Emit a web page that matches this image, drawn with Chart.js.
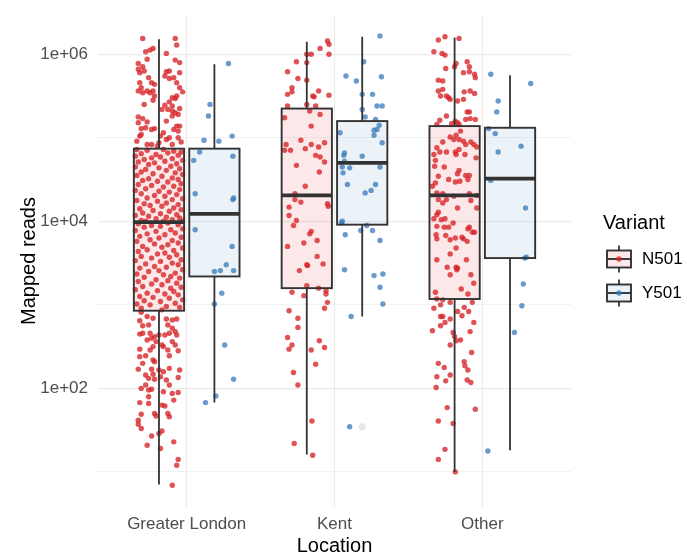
<!DOCTYPE html>
<html>
<head>
<meta charset="utf-8">
<script src="https://cdn.jsdelivr.net/npm/chart.js@4.4.1/dist/chart.umd.min.js"></script>
<style>
  html, body { margin: 0; padding: 0; background: #fff; }
  #wrap { width: 687px; height: 554px; position: relative; }
</style>
</head>
<body>
<div id="wrap"><canvas id="chart"></canvas></div>
<script>
// =======================
// Data (all read off the picture, values are log10(mapped reads))
// =======================

const locations = ["Greater London", "Kent", "Other"];
const variantNames = ["N501", "Y501"];
const yTickExponents = [1, 2, 3, 4, 5, 6];

// box stats per location: [lower whisker, Q1, median, Q3, upper whisker]
const n501Box = [
  [0.85, 2.93, 3.99, 4.87, 6.18],
  [1.21, 3.20, 4.31, 5.35, 6.15],
  [1.00, 3.07, 4.31, 5.14, 6.20]
];
const y501Box = [
  [1.83, 3.34, 4.09, 4.87, 5.88],
  [2.86, 3.96, 4.70, 5.20, 6.21],
  [1.26, 3.56, 4.51, 5.12, 5.75]
];

// outliers drawn by the boxplot: [location index, log10 value]
const y501Outliers = [[1, 1.54]];

// jittered points: [horizontal jitter, log10 value]
const glN501 = [
  [-0.11,6.19],[0.11,6.19],[0.12,6.11],[-0.09,6.03],[-0.06,6.05],[-0.04,6.07],[0.05,6.01],[-0.08,5.94],[0.11,5.93],[0.14,5.90],
  [-0.14,5.89],[-0.14,5.82],[-0.11,5.85],[-0.13,5.78],[-0.10,5.80],[0.05,5.79],[0.07,5.80],[0.04,5.74],[0.07,5.71],[0.10,5.72],
  [0.14,5.78],[-0.07,5.72],[-0.05,5.66],[-0.03,5.64],[-0.13,5.66],[-0.12,5.60],[-0.11,5.54],[-0.14,5.56],[-0.08,5.56],[-0.06,5.54],
  [-0.04,5.56],[-0.03,5.50],[-0.04,5.45],[0.12,5.66],[0.14,5.60],[0.12,5.50],[0.09,5.48],[0.07,5.43],[0.11,5.47],[0.14,5.35],
  [0.09,5.38],[0.11,5.30],[0.13,5.28],[0.09,5.26],[0.05,5.20],[0.04,5.39],[-0.14,5.25],[-0.11,5.23],[-0.14,5.18],[-0.08,5.19],
  [-0.12,5.11],[-0.09,5.12],[-0.05,5.10],[-0.03,5.11],[0.02,5.34],[0.06,5.34],[0.09,5.32],[0.12,5.14],[0.10,5.10],[0.14,5.14],
  [0.13,5.08],[-0.13,5.02],[-0.12,5.04],[0.01,5.02],[0.05,4.98],[0.07,5.00],[0.13,5.00],[-0.05,4.92],[-0.08,4.92],[0.00,4.94],
  [0.09,4.92],[-0.15,4.96],[0.15,4.95],[-0.01,4.90],[0.03,5.06],[-0.10,5.40],[0.16,5.55],
  // Q3 to median
  [-0.15,4.86],[-0.08,4.85],[0.03,4.86],[0.10,4.84],[0.15,4.83],[-0.12,4.81],[-0.02,4.80],[0.06,4.82],[0.13,4.79],[-0.16,4.78],
  [-0.05,4.76],[0.01,4.77],[0.09,4.75],[-0.10,4.74],[0.16,4.73],[-0.14,4.71],[-0.03,4.70],[0.04,4.72],[0.12,4.69],[-0.07,4.68],
  [0.08,4.66],[-0.16,4.65],[0.00,4.64],[0.14,4.63],[-0.09,4.62],[0.05,4.61],[-0.12,4.59],[0.11,4.58],[-0.04,4.57],[0.16,4.56],
  [-0.15,4.55],[0.02,4.54],[0.09,4.52],[-0.07,4.51],[0.13,4.50],[-0.11,4.49],[-0.01,4.48],[0.06,4.47],[0.15,4.45],[-0.14,4.44],
  [-0.05,4.43],[0.10,4.42],[0.03,4.41],[-0.09,4.39],[0.14,4.38],[-0.16,4.37],[0.00,4.36],[0.07,4.35],[-0.12,4.33],[0.12,4.32],
  [-0.03,4.31],[0.04,4.30],[-0.08,4.28],[0.16,4.27],[0.09,4.26],[-0.15,4.25],[-0.01,4.24],[0.05,4.22],[-0.10,4.21],[0.13,4.20],
  [-0.06,4.19],[0.02,4.18],[0.10,4.16],[-0.13,4.15],[0.15,4.14],[-0.04,4.13],[0.07,4.12],[-0.11,4.10],[0.01,4.09],[0.12,4.08],
  [-0.16,4.07],[-0.07,4.06],[0.05,4.05],[0.14,4.04],[-0.02,4.03],[0.09,4.02],[-0.12,4.01],[0.03,4.00],[-0.09,4.00],[0.16,4.00],
  // median to Q1
  [0.06,3.98],[-0.14,3.97],[0.13,3.96],[-0.05,3.95],[0.01,3.94],[-0.10,3.93],[0.16,3.91],[0.08,3.90],[-0.16,3.89],[-0.02,3.88],
  [0.11,3.86],[-0.08,3.85],[0.04,3.84],[-0.13,3.82],[0.15,3.81],[0.00,3.80],[-0.06,3.78],[0.09,3.77],[-0.15,3.76],[0.13,3.74],
  [-0.03,3.73],[0.06,3.72],[-0.11,3.70],[0.02,3.69],[0.16,3.68],[-0.08,3.66],[0.10,3.65],[-0.14,3.64],[0.04,3.62],[-0.01,3.61],
  [0.12,3.60],[-0.12,3.58],[0.07,3.57],[-0.05,3.56],[0.15,3.54],[-0.16,3.53],[0.01,3.52],[0.09,3.50],[-0.09,3.49],[0.13,3.48],
  [-0.03,3.46],[0.05,3.45],[-0.13,3.44],[0.16,3.42],[0.00,3.41],[-0.07,3.40],[0.11,3.38],[-0.15,3.37],[0.03,3.36],[0.08,3.34],
  [-0.10,3.33],[0.14,3.32],[-0.02,3.30],[0.06,3.29],[-0.14,3.28],[0.12,3.26],[-0.05,3.25],[0.02,3.24],[-0.11,3.22],[0.15,3.21],
  [0.08,3.20],[-0.16,3.18],[-0.01,3.17],[0.10,3.16],[-0.08,3.14],[0.04,3.13],[0.13,3.12],[-0.13,3.10],[-0.04,3.09],[0.07,3.08],
  [0.16,3.06],[-0.10,3.05],[0.01,3.04],[0.11,3.02],[-0.15,3.01],[-0.06,3.00],[0.05,2.98],[0.14,2.97],[-0.12,2.96],[0.02,2.94],
  // below Q1
  [-0.12,2.91],[-0.08,2.86],[-0.04,2.84],[0.05,2.83],[0.09,2.82],[0.12,2.83],[-0.13,2.81],[-0.11,2.75],[-0.07,2.76],[0.06,2.76],
  [0.09,2.72],[0.11,2.68],[0.07,2.66],[0.04,2.64],[0.12,2.64],[-0.13,2.65],[-0.11,2.66],[-0.06,2.66],[-0.03,2.62],[0.00,2.64],
  [-0.08,2.58],[-0.05,2.60],[-0.02,2.56],[0.02,2.52],[0.03,2.50],[0.09,2.56],[0.11,2.52],[-0.13,2.47],[-0.06,2.46],[-0.04,2.50],
  [0.06,2.46],[0.13,2.45],[-0.13,2.38],[-0.09,2.39],[-0.04,2.34],[0.07,2.39],[-0.11,2.30],[-0.03,2.32],[-0.14,2.23],[-0.05,2.23],
  [0.00,2.22],[0.07,2.24],[0.14,2.22],[-0.09,2.16],[-0.04,2.17],[0.03,2.20],[-0.07,2.12],[-0.03,2.11],[0.01,2.14],[0.05,2.10],
  [0.13,2.13],[-0.09,2.04],[-0.12,2.00],[-0.07,1.98],[-0.05,1.99],[0.03,1.96],[0.07,2.04],[0.09,1.94],[0.13,1.95],[0.10,1.86],
  [-0.07,1.90],[-0.13,1.83],[-0.07,1.82],[0.02,1.80],[0.04,1.79],[-0.12,1.69],[-0.03,1.70],[-0.02,1.67],[0.06,1.70],[0.07,1.66],
  [-0.14,1.62],[-0.14,1.57],[-0.12,1.52],[-0.05,1.43],[0.00,1.46],[0.02,1.49],[-0.08,1.32],[0.10,1.36],[0.01,1.28],[0.13,1.15],
  [0.12,1.08],[0.09,0.84]
];

const glY501 = [
  [0.095,5.89],[-0.03,5.40],[-0.04,5.26],[-0.07,4.97],[0.03,4.96],[0.12,5.02],[-0.10,4.83],[-0.14,4.73],[0.125,4.78],[-0.13,4.33],
  [0.13,4.28],[0.125,4.26],[-0.13,3.90],[0.12,3.70],[0.08,3.48],[0.00,3.40],[0.04,3.41],[0.13,3.41],[0.05,3.14],[0.00,3.01],
  [0.07,2.52],[0.13,2.11],[0.01,1.91],[-0.06,1.83]
];

const kentN501 = [
  [0.14,6.16],[0.15,6.12],[0.09,6.07],[0.00,6.00],[0.03,6.00],[0.15,6.00],[-0.07,5.91],[0.00,5.90],[-0.13,5.79],[-0.06,5.71],
  [0.00,5.69],[-0.10,5.60],[-0.10,5.55],[-0.13,5.52],[0.08,5.56],[0.04,5.50],[0.05,5.49],[0.15,5.51],[-0.13,5.38],[0.00,5.40],
  [0.06,5.38],[0.02,5.32],[0.09,5.28],[-0.15,5.24],[0.03,5.14],[-0.04,4.97],[0.12,4.94],[-0.14,4.92],[-0.15,4.85],[-0.11,4.85],
  [-0.01,4.87],[0.03,4.92],[0.08,4.89],[0.06,4.79],[0.09,4.77],[0.12,4.71],[-0.07,4.67],[0.085,4.59],[-0.01,4.42],[-0.08,4.33],
  [-0.08,4.26],[-0.04,4.23],[0.14,4.21],[0.145,4.18],[-0.12,4.17],[-0.12,4.07],[-0.07,4.01],[-0.09,3.95],[0.03,3.88],[0.02,3.85],
  [0.07,3.77],[-0.02,3.74],[-0.13,3.70],[0.07,3.58],[0.11,3.49],[0.00,3.48],[0.005,3.47],[-0.05,3.41],[0.00,3.23],[0.08,3.20],
  [0.13,3.17],[-0.10,3.15],[-0.02,3.11],[0.13,3.13],[0.14,3.03],[0.12,2.96],[-0.12,2.93],[-0.06,2.84],[-0.06,2.73],[-0.13,2.61],
  [-0.10,2.52],[-0.12,2.47],[0.085,2.57],[0.03,2.46],[0.12,2.49],[0.06,2.29],[-0.09,2.19],[-0.06,2.04],[0.035,1.61],[-0.085,1.34],
  [0.04,1.20]
];

const kentY501 = [
  [0.12,6.22],[0.01,5.91],[-0.11,5.74],[-0.04,5.68],[0.13,5.73],[0.00,5.52],[0.07,5.52],[0.10,5.38],[0.135,5.38],[0.00,5.34],
  [0.02,5.25],[0.09,5.22],[0.115,5.15],[0.10,5.10],[0.08,5.09],[0.08,5.03],[-0.15,5.06],[0.135,4.94],[0.00,4.78],[-0.12,4.82],
  [-0.125,4.79],[-0.12,4.72],[-0.135,4.65],[-0.13,4.58],[-0.085,4.64],[0.12,4.65],[-0.10,4.44],[0.09,4.44],[0.06,4.37],[0.02,4.34],
  [-0.135,4.00],[-0.14,3.98],[-0.01,3.89],[0.03,3.95],[0.07,3.89],[-0.115,3.84],[0.12,3.77],[-0.12,3.42],[0.08,3.35],[0.14,3.37],
  [0.12,3.21],[0.14,3.01],[-0.075,2.86],[-0.085,1.54]
];

const otherN501 = [
  [-0.11,6.17],[-0.065,6.21],[0.03,6.19],[-0.14,6.03],[-0.085,6.01],[-0.065,5.99],[0.01,5.89],[0.00,5.85],[0.085,5.91],[0.10,5.85],
  [0.10,5.79],[0.06,5.78],[-0.06,5.83],[0.135,5.76],[0.14,5.72],[-0.11,5.69],[-0.08,5.68],[-0.11,5.56],[-0.08,5.58],[-0.095,5.50],
  [-0.055,5.50],[-0.04,5.48],[-0.03,5.46],[0.065,5.55],[0.105,5.56],[0.135,5.53],[0.02,5.44],[0.06,5.46],[-0.055,5.26],[0.085,5.31],
  [0.10,5.31],[0.075,5.22],[0.105,5.23],[0.14,5.22],[-0.10,5.21],[-0.12,5.16],[0.005,5.20],[0.02,5.18],[0.03,5.16],[-0.02,5.17],
  [0.04,5.08],[-0.03,5.01],[0.01,5.03],[-0.005,4.98],[-0.08,4.95],[0.03,4.98],[0.06,4.96],[0.075,4.92],[0.11,4.95],[0.13,4.92],
  [0.15,4.89],[-0.12,4.88],[-0.10,4.83],[-0.14,4.80],[-0.055,4.83],[0.005,4.83],[0.03,4.86],[0.07,4.80],[0.01,4.80],[0.145,4.76],
  [-0.13,4.73],[-0.135,4.66],[-0.07,4.65],[0.03,4.61],[0.02,4.57],[0.075,4.55],[0.10,4.55],[-0.11,4.54],[-0.04,4.50],[0.005,4.47],
  [0.035,4.48],[0.09,4.50],[-0.13,4.46],[-0.15,4.42],[-0.12,4.34],[-0.08,4.33],[-0.005,4.30],[0.10,4.33],[0.15,4.31],[-0.055,4.26],
  [-0.11,4.26],[-0.08,4.22],[0.11,4.25],[0.15,4.16],[0.02,4.16],[-0.11,4.11],[-0.12,4.08],[-0.14,4.03],[-0.09,4.02],[-0.065,4.03],
  [-0.07,3.93],[-0.04,3.93],[-0.01,3.98],[-0.12,3.94],[0.09,3.91],[0.10,3.93],[0.12,3.87],[0.135,3.87],[-0.125,3.84],[-0.06,3.83],
  [-0.03,3.78],[0.005,3.80],[0.05,3.81],[0.06,3.79],[0.085,3.76],[-0.12,3.79],[0.01,3.68],[-0.12,3.54],[-0.03,3.61],[0.02,3.44],
  [0.08,3.54],[0.11,3.36],[-0.05,3.45],[0.01,3.45],[-0.03,3.36],[0.015,3.42],[0.13,3.26],[0.045,3.19],[0.09,3.13],[-0.13,3.15],
  [-0.12,3.07],[-0.08,3.06],[-0.095,3.00],[-0.03,3.03],[-0.14,2.96],[0.065,2.97],[0.12,3.03],[0.02,2.92],[0.095,2.92],[0.05,2.87],
  [-0.08,2.86],[-0.095,2.86],[-0.065,2.79],[-0.03,2.83],[0.13,2.79],[-0.095,2.75],[-0.15,2.69],[-0.01,2.67],[0.105,2.68],[0.00,2.62],
  [0.01,2.57],[0.04,2.58],[-0.03,2.52],[0.115,2.43],[-0.11,2.30],[-0.07,2.25],[0.065,2.32],[0.07,2.27],[0.09,2.22],[-0.12,2.14],
  [-0.03,2.16],[-0.06,2.09],[0.085,2.10],[0.11,2.07],[-0.125,2.01],[-0.05,1.77],[0.14,1.75],[-0.11,1.61],[-0.01,1.58],[-0.065,1.27],
  [-0.11,1.15],[0.005,1.00]
];

const otherY501 = [
  [-0.13,5.76],[0.14,5.65],[-0.08,5.44],[-0.09,5.31],[-0.145,5.11],[-0.10,5.05],[0.075,4.90],[-0.08,4.83],[-0.13,4.49],[0.105,4.16],
  [0.10,3.56],[0.11,3.57],[0.09,3.25],[0.08,2.99],[0.03,2.67],[-0.15,1.25]
];


// =======================
// Styling
// =======================

const FONT = "'Liberation Sans', Arial, Helvetica, sans-serif";
const DODGE = 0.1875;
const BOX_HALF = 0.17;

const variants = [
  { name: variantNames[0], dodge: -DODGE, box: n501Box, pts: [glN501, kentN501, otherN501],
    point: "rgba(214,35,40,0.78)", fill: "rgba(228,26,28,0.10)" },
  { name: variantNames[1], dodge: DODGE, box: y501Box, pts: [glY501, kentY501, otherY501],
    point: "rgba(55,120,185,0.75)", fill: "rgba(55,126,184,0.10)" }
];

function toPoints(v) {
  const out = [];
  v.pts.forEach((arr, li) => {
    arr.forEach(([j, e]) => out.push({ x: li + v.dodge + j, y: Math.pow(10, e) }));
  });
  return out;
}


// =======================
// Plugins: boxplots + legend
// =======================

const boxPlugin = {
  id: "boxes",
  afterDatasetsDraw(chart) {
    const { ctx, scales: { x, y } } = chart;
    ctx.save();
    variants.forEach(v => {
      v.box.forEach((s, li) => {
        const c = li + v.dodge;
        const xl = x.getPixelForValue(c - BOX_HALF);
        const xr = x.getPixelForValue(c + BOX_HALF);
        const xc = x.getPixelForValue(c);
        const [lo, q1, md, q3, hi] = s.map(e => y.getPixelForValue(Math.pow(10, e)));

        ctx.strokeStyle = "#333333";
        ctx.lineWidth = 1.8;
        ctx.beginPath();
        ctx.moveTo(xc, hi); ctx.lineTo(xc, q3);
        ctx.moveTo(xc, q1); ctx.lineTo(xc, lo);
        ctx.stroke();

        ctx.fillStyle = v.fill;
        ctx.fillRect(xl, q3, xr - xl, q1 - q3);
        ctx.lineWidth = 1.9;
        ctx.strokeRect(xl, q3, xr - xl, q1 - q3);

        ctx.lineWidth = 3.8;
        ctx.beginPath();
        ctx.moveTo(xl, md); ctx.lineTo(xr, md);
        ctx.stroke();
      });
    });
    ctx.restore();
  }
};

const legendPlugin = {
  id: "boxLegend",
  afterDraw(chart) {
    const ctx = chart.ctx;
    ctx.save();
    ctx.textBaseline = "middle";
    ctx.textAlign = "left";
    ctx.fillStyle = "#000";
    ctx.font = "20px " + FONT;
    ctx.fillText("Variant", 603, 223);

    const kx = 607, kw = 24, kh = 34;
    variants.forEach((v, i) => {
      const top = 242 + i * kh;
      const xc = kx + kw / 2;
      ctx.strokeStyle = "#333333";
      ctx.lineWidth = 1.8;
      ctx.beginPath();
      ctx.moveTo(xc, top + kh * 0.1); ctx.lineTo(xc, top + kh * 0.9);
      ctx.stroke();
      ctx.fillStyle = "#fff";
      ctx.fillRect(kx, top + kh * 0.25, kw, kh * 0.5);
      ctx.fillStyle = v.fill;
      ctx.fillRect(kx, top + kh * 0.25, kw, kh * 0.5);
      ctx.lineWidth = 1.9;
      ctx.strokeRect(kx, top + kh * 0.25, kw, kh * 0.5);
      ctx.beginPath();
      ctx.moveTo(kx, top + kh / 2); ctx.lineTo(kx + kw, top + kh / 2);
      ctx.stroke();
      ctx.fillStyle = v.point;
      ctx.beginPath();
      ctx.arc(xc, top + kh / 2, 2.7, 0, Math.PI * 2);
      ctx.fill();

      ctx.fillStyle = "#000";
      ctx.font = "17px " + FONT;
      ctx.fillText(v.name, 642, top + kh / 2);
    });
    ctx.restore();
  }
};


// =======================
// Chart
// =======================

document.addEventListener("DOMContentLoaded", () => {
  const datasets = variants.map(v => ({
    label: v.name,
    data: toPoints(v),
    backgroundColor: v.point,
    borderWidth: 0,
    pointRadius: 2.7,
    pointHoverRadius: 2.7
  }));
  datasets.push({
    label: "outliers",
    data: y501Outliers.map(([li, e]) => ({ x: li + DODGE, y: Math.pow(10, e) })),
    backgroundColor: "rgba(0,0,0,0.09)",
    borderWidth: 0,
    pointRadius: 3.6
  });

  new Chart(document.getElementById("chart").getContext("2d"), {
    type: "scatter",
    data: { datasets },
    plugins: [boxPlugin, legendPlugin],
    options: {
      responsive: true,
      maintainAspectRatio: false,
      animation: false,
      layout: { padding: { left: 0, top: 15, right: 116, bottom: 0 } },
      plugins: { legend: { display: false }, tooltip: { enabled: false } },
      scales: {
        x: {
          type: "linear",
          min: -0.6,
          max: 2.6,
          bounds: "data",
          afterBuildTicks: s => { s.ticks = locations.map((_, i) => ({ value: i })); },
          afterFit: s => { s.height = 47; s.paddingLeft = 0; s.paddingRight = 0; },
          ticks: {
            autoSkip: false,
            padding: 7,
            color: "#4D4D4D",
            font: { family: FONT, size: 17 },
            callback: v => locations[v]
          },
          grid: { color: "#EBEBEB", lineWidth: 1.1, drawTicks: false },
          border: { display: false },
          title: {
            display: true,
            text: "Location",
            color: "#000",
            font: { family: FONT, size: 20, lineHeight: 1 },
            padding: { top: 0, bottom: -2 }
          }
        },
        y: {
          type: "logarithmic",
          min: Math.pow(10, 0.58),
          max: Math.pow(10, 6.47),
          bounds: "data",
          afterBuildTicks: s => { s.ticks = yTickExponents.map(e => ({ value: Math.pow(10, e) })); },
          afterFit: s => { s.width = 98; s.paddingTop = 0; s.paddingBottom = 0; },
          ticks: {
            autoSkip: false,
            padding: 10,
            color: "#4D4D4D",
            font: { family: FONT, size: 17 },
            callback: v => {
              const e = Math.round(Math.log10(v));
              return e % 2 === 0 ? "1e+" + String(e).padStart(2, "0") : "";
            }
          },
          grid: {
            color: "#EBEBEB",
            drawTicks: false,
            lineWidth: c => (Math.round(Math.log10(c.tick.value)) % 2 === 0 ? 1.2 : 0.7)
          },
          border: { display: false },
          title: {
            display: true,
            text: "Mapped reads",
            color: "#000",
            font: { family: FONT, size: 20, lineHeight: 1 },
            padding: { top: 19, bottom: 0 }
          }
        }
      }
    }
  });
});
</script>
</body>
</html>
